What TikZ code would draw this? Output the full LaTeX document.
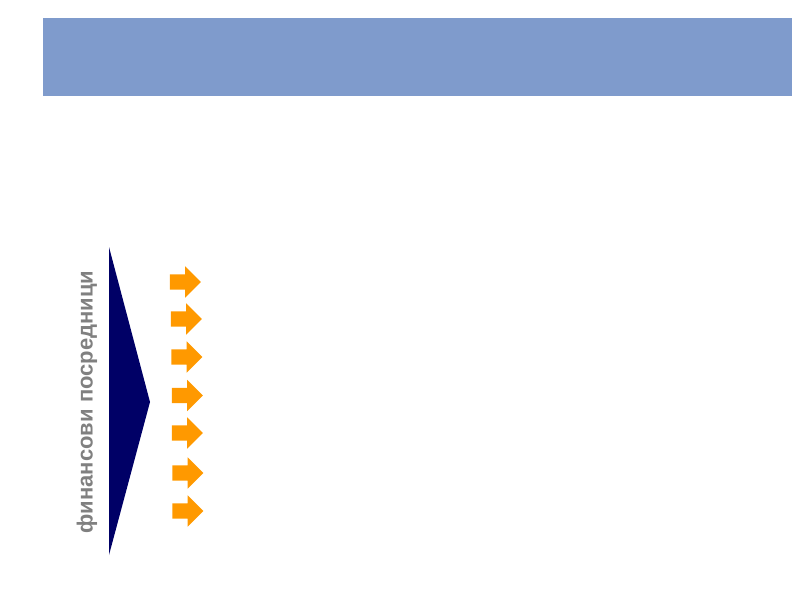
\documentclass[tikz,border=0pt]{standalone}
\usepackage{fontspec}
\setmainfont{Liberation Sans}
\usetikzlibrary{shapes.arrows}
\definecolor{bannerblue}{RGB}{127,155,204}
\definecolor{navy}{RGB}{0,0,102}
\definecolor{orangeA}{RGB}{255,153,0}
\definecolor{labelgray}{RGB}{128,128,128}
\begin{document}
\begin{tikzpicture}[
    x=1pt,y=-1pt,
    banner/.style={
        fill=bannerblue,
        draw=none
    },
    wedge/.style={
        fill=navy,
        draw=none
    },
    orarrow/.style={
        single arrow,
        fill=orangeA,
        draw=none,
        inner xsep=0pt,
        inner ysep=7.5pt,
        minimum height=31pt,
        single arrow head extend=8pt,
        single arrow head indent=0pt
    },
    sidelabel/.style={
        font=\bfseries\fontsize{22}{26}\selectfont,
        text=labelgray,
        rotate=90,
        inner sep=0pt
    }
    ]
  \useasboundingbox (0,0) rectangle (792,594);

  \fill[banner] (43,18) rectangle (792,96);

  \coordinate (wtop) at (109,247);
  \coordinate (wtip) at (150,402);
  \coordinate (wbot) at (109,555);
  \fill[wedge] (wtop) -- (wtip) -- (wbot) -- cycle;

  \node[sidelabel] (lbl) at (87,402) {финансови посредници};

  \foreach \x/\y [count=\i] in {181.5/282,182.5/319,183/357,183.5/395.5,183.5/433,184/473,184/511}
    \node[orarrow] (arr\i) at (\x,\y) {};
\end{tikzpicture}
\end{document}
